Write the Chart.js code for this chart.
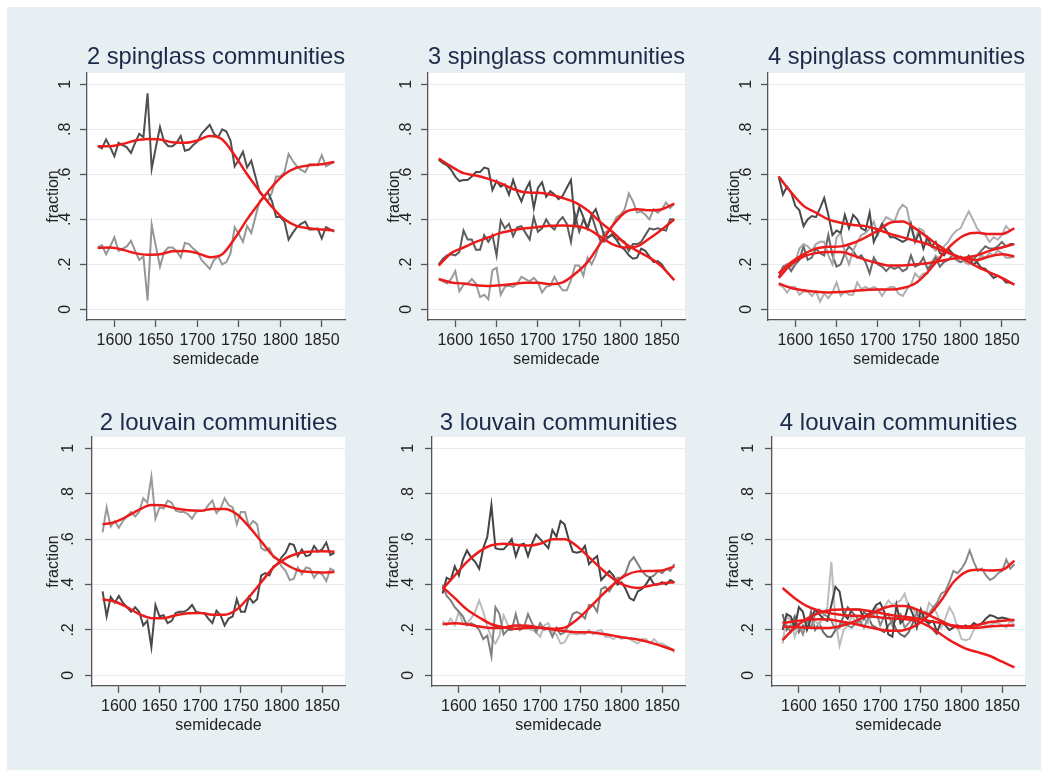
<!DOCTYPE html>
<html>
<head>
<meta charset="utf-8">
<script src="https://cdn.jsdelivr.net/npm/chart.js@4.4.1/dist/chart.umd.min.js"></script>
<style>
  html, body { margin: 0; padding: 0; background: #fff; }
  body { width: 1049px; height: 770px; position: relative; overflow: hidden; }
  #bg { position: absolute; left: 7px; top: 7px; width: 1034px; height: 763px; background: #e8eff2; }
  canvas { position: absolute; }
</style>
</head>
<body>
<div id="bg"></div>
<canvas id="c0"></canvas>
<canvas id="c1"></canvas>
<canvas id="c2"></canvas>
<canvas id="c3"></canvas>
<canvas id="c4"></canvas>
<canvas id="c5"></canvas>
<script>
// semidecades on the x axis
const years = [1580, 1585, 1590, 1595, 1600, 1605, 1610, 1615, 1620, 1625,
  1630, 1635, 1640, 1645, 1650, 1655, 1660, 1665, 1670, 1675,
  1680, 1685, 1690, 1695, 1700, 1705, 1710, 1715, 1720, 1725,
  1730, 1735, 1740, 1745, 1750, 1755, 1760, 1765, 1770, 1775,
  1780, 1785, 1790, 1795, 1800, 1805, 1810, 1815, 1820, 1825,
  1830, 1835, 1840, 1845, 1850, 1855, 1860, 1865];
// x positions of the smoothed (red) curves
const smoothYears = [1580, 1595, 1610, 1625, 1640, 1655, 1670, 1685, 1700, 1715,
  1730, 1745, 1760, 1775, 1790, 1805, 1820, 1835, 1850, 1865];

const xTicks = [1600, 1650, 1700, 1750, 1800, 1850];
const yTicks = [0, 0.2, 0.4, 0.6, 0.8, 1];
const yTickLabels = ['0', '.2', '.4', '.6', '.8', '1'];

const panelTitles = ['2 spinglass communities', '3 spinglass communities', '4 spinglass communities',
  '2 louvain communities', '3 louvain communities', '4 louvain communities'];

// --- 2 spinglass
const sg2Upper = [0.725, 0.715, 0.755, 0.72, 0.68, 0.74, 0.73, 0.72, 0.695, 0.74,
  0.78, 0.765, 0.96, 0.625, 0.72, 0.81, 0.745, 0.725, 0.725, 0.74,
  0.77, 0.705, 0.71, 0.73, 0.745, 0.78, 0.80, 0.82, 0.78, 0.765,
  0.80, 0.79, 0.75, 0.635, 0.665, 0.70, 0.63, 0.66, 0.59, 0.52,
  0.50, 0.52, 0.48, 0.41, 0.41, 0.39, 0.31, 0.34, 0.365, 0.38,
  0.39, 0.355, 0.355, 0.36, 0.315, 0.365, 0.355, 0.345];
const sg2Lower = [0.275, 0.285, 0.245, 0.28, 0.32, 0.26, 0.27, 0.28, 0.305, 0.26,
  0.22, 0.235, 0.04, 0.375, 0.28, 0.19, 0.255, 0.275, 0.275, 0.26,
  0.23, 0.295, 0.29, 0.27, 0.255, 0.22, 0.20, 0.18, 0.22, 0.235,
  0.20, 0.21, 0.25, 0.365, 0.335, 0.30, 0.37, 0.34, 0.41, 0.48,
  0.50, 0.48, 0.52, 0.59, 0.59, 0.61, 0.69, 0.66, 0.635, 0.62,
  0.61, 0.645, 0.645, 0.64, 0.685, 0.635, 0.645, 0.655];
const sg2FitUpper = [0.725, 0.725, 0.735, 0.75, 0.757, 0.755, 0.742, 0.74, 0.75, 0.77,
  0.755, 0.685, 0.60, 0.525, 0.455, 0.40, 0.37, 0.36, 0.355, 0.35];
const sg2FitLower = [0.273, 0.275, 0.265, 0.25, 0.243, 0.245, 0.258, 0.26, 0.25, 0.232,
  0.245, 0.315, 0.40, 0.475, 0.545, 0.60, 0.63, 0.64, 0.645, 0.655];

// --- 3 spinglass
const sg3A = [0.665, 0.65, 0.64, 0.62, 0.59, 0.57, 0.575, 0.575, 0.59, 0.61,
  0.61, 0.63, 0.625, 0.53, 0.57, 0.545, 0.555, 0.51, 0.575, 0.52,
  0.48, 0.53, 0.565, 0.45, 0.54, 0.565, 0.50, 0.525, 0.51, 0.49,
  0.505, 0.54, 0.575, 0.38, 0.455, 0.41, 0.36, 0.42, 0.445, 0.39,
  0.33, 0.32, 0.335, 0.31, 0.28, 0.265, 0.24, 0.225, 0.23, 0.27,
  0.26, 0.235, 0.21, 0.215, 0.20, 0.17, 0.15, 0.13];
const sg3B = [0.20, 0.225, 0.24, 0.245, 0.24, 0.255, 0.35, 0.31, 0.31, 0.265,
  0.265, 0.33, 0.30, 0.33, 0.24, 0.395, 0.36, 0.38, 0.325, 0.365,
  0.37, 0.34, 0.31, 0.41, 0.345, 0.36, 0.40, 0.37, 0.355, 0.39,
  0.41, 0.38, 0.30, 0.42, 0.345, 0.40, 0.36, 0.42, 0.36, 0.31,
  0.30, 0.32, 0.33, 0.31, 0.31, 0.30, 0.26, 0.29, 0.29, 0.30,
  0.33, 0.36, 0.355, 0.36, 0.355, 0.35, 0.40, 0.40];
const sg3C = [0.135, 0.125, 0.115, 0.135, 0.17, 0.08, 0.11, 0.115, 0.135, 0.115,
  0.055, 0.065, 0.045, 0.175, 0.185, 0.065, 0.10, 0.105, 0.10, 0.115,
  0.145, 0.135, 0.125, 0.14, 0.12, 0.075, 0.10, 0.105, 0.145, 0.11,
  0.085, 0.085, 0.13, 0.195, 0.195, 0.15, 0.23, 0.20, 0.24, 0.30,
  0.34, 0.35, 0.37, 0.41, 0.42, 0.445, 0.515, 0.48, 0.43, 0.435,
  0.42, 0.40, 0.445, 0.43, 0.445, 0.475, 0.45, 0.47];
const sg3FitA = [0.67, 0.635, 0.605, 0.595, 0.58, 0.56, 0.535, 0.52, 0.518, 0.51,
  0.495, 0.475, 0.44, 0.39, 0.345, 0.295, 0.26, 0.23, 0.19, 0.13];
const sg3FitB = [0.195, 0.25, 0.275, 0.30, 0.32, 0.34, 0.352, 0.36, 0.366, 0.372,
  0.373, 0.37, 0.358, 0.325, 0.29, 0.275, 0.28, 0.315, 0.355, 0.40];
const sg3FitC = [0.135, 0.12, 0.115, 0.107, 0.104, 0.107, 0.113, 0.118, 0.118, 0.112,
  0.12, 0.158, 0.21, 0.29, 0.37, 0.43, 0.445, 0.44, 0.445, 0.47];

// --- 4 spinglass
const sg4A = [0.59, 0.51, 0.545, 0.52, 0.46, 0.44, 0.37, 0.40, 0.415, 0.41,
  0.45, 0.495, 0.42, 0.33, 0.35, 0.34, 0.42, 0.36, 0.42, 0.40,
  0.36, 0.35, 0.43, 0.30, 0.34, 0.38, 0.35, 0.32, 0.32, 0.31,
  0.30, 0.31, 0.38, 0.30, 0.34, 0.27, 0.32, 0.28, 0.30, 0.25,
  0.24, 0.27, 0.25, 0.23, 0.235, 0.22, 0.235, 0.20, 0.21, 0.185,
  0.18, 0.16, 0.14, 0.15, 0.14, 0.12, 0.12, 0.11];
const sg4B = [0.16, 0.18, 0.20, 0.19, 0.21, 0.27, 0.29, 0.28, 0.26, 0.29,
  0.30, 0.30, 0.24, 0.20, 0.32, 0.34, 0.25, 0.20, 0.26, 0.30,
  0.33, 0.34, 0.36, 0.39, 0.33, 0.38, 0.41, 0.40, 0.39, 0.44,
  0.465, 0.45, 0.36, 0.31, 0.36, 0.35, 0.30, 0.28, 0.26, 0.28,
  0.27, 0.25, 0.24, 0.22, 0.23, 0.21, 0.20, 0.22, 0.21, 0.24,
  0.23, 0.25, 0.24, 0.26, 0.25, 0.23, 0.23, 0.235];
const sg4C = [0.14, 0.19, 0.20, 0.17, 0.20, 0.22, 0.28, 0.22, 0.23, 0.27,
  0.25, 0.24, 0.33, 0.24, 0.19, 0.20, 0.25, 0.28, 0.26, 0.23,
  0.24, 0.21, 0.16, 0.23, 0.20, 0.19, 0.17, 0.19, 0.18, 0.19,
  0.17, 0.18, 0.24, 0.19, 0.20, 0.23, 0.18, 0.20, 0.23, 0.19,
  0.21, 0.22, 0.24, 0.22, 0.21, 0.22, 0.24, 0.22, 0.24, 0.26,
  0.28, 0.27, 0.27, 0.28, 0.30, 0.28, 0.29, 0.29];
const sg4D = [0.11, 0.10, 0.075, 0.10, 0.10, 0.065, 0.08, 0.08, 0.06, 0.08,
  0.035, 0.07, 0.05, 0.075, 0.12, 0.06, 0.08, 0.065, 0.065, 0.12,
  0.09, 0.10, 0.09, 0.10, 0.09, 0.06, 0.09, 0.10, 0.10, 0.07,
  0.06, 0.09, 0.11, 0.16, 0.14, 0.16, 0.16, 0.21, 0.24, 0.22,
  0.28, 0.30, 0.33, 0.35, 0.36, 0.40, 0.435, 0.40, 0.36, 0.34,
  0.33, 0.30, 0.32, 0.31, 0.33, 0.37, 0.35, 0.36];
const sg4FitA = [0.59, 0.52, 0.46, 0.43, 0.40, 0.385, 0.375, 0.37, 0.355, 0.335,
  0.32, 0.305, 0.29, 0.265, 0.245, 0.22, 0.19, 0.165, 0.14, 0.11];
const sg4FitB = [0.16, 0.21, 0.245, 0.27, 0.278, 0.28, 0.295, 0.32, 0.35, 0.385,
  0.39, 0.36, 0.32, 0.28, 0.245, 0.225, 0.22, 0.235, 0.245, 0.235];
const sg4FitC = [0.14, 0.20, 0.235, 0.25, 0.255, 0.255, 0.24, 0.22, 0.205, 0.195,
  0.195, 0.20, 0.205, 0.215, 0.225, 0.23, 0.24, 0.26, 0.275, 0.29];
const sg4FitD = [0.115, 0.095, 0.085, 0.078, 0.075, 0.077, 0.082, 0.086, 0.088, 0.088,
  0.095, 0.115, 0.165, 0.23, 0.29, 0.33, 0.34, 0.335, 0.335, 0.36];

// --- 2 louvain
const lv2Upper = [0.63, 0.74, 0.655, 0.68, 0.65, 0.68, 0.70, 0.72, 0.70, 0.72,
  0.78, 0.76, 0.875, 0.69, 0.74, 0.735, 0.77, 0.76, 0.725, 0.72,
  0.72, 0.71, 0.69, 0.72, 0.725, 0.725, 0.75, 0.77, 0.715, 0.735,
  0.78, 0.75, 0.74, 0.665, 0.72, 0.72, 0.655, 0.68, 0.665, 0.56,
  0.55, 0.56, 0.52, 0.51, 0.48, 0.46, 0.42, 0.425, 0.475, 0.445,
  0.475, 0.47, 0.43, 0.455, 0.445, 0.415, 0.47, 0.46];
const lv2Lower = [0.37, 0.26, 0.345, 0.32, 0.35, 0.32, 0.30, 0.28, 0.30, 0.28,
  0.22, 0.24, 0.125, 0.31, 0.26, 0.265, 0.23, 0.24, 0.275, 0.28,
  0.28, 0.29, 0.31, 0.28, 0.275, 0.275, 0.25, 0.23, 0.285, 0.265,
  0.22, 0.25, 0.26, 0.335, 0.28, 0.28, 0.345, 0.32, 0.335, 0.44,
  0.45, 0.44, 0.48, 0.49, 0.52, 0.54, 0.58, 0.575, 0.525, 0.555,
  0.525, 0.53, 0.57, 0.545, 0.555, 0.585, 0.53, 0.54];
const lv2FitUpper = [0.665, 0.675, 0.70, 0.73, 0.75, 0.748, 0.735, 0.727, 0.725, 0.733,
  0.733, 0.71, 0.655, 0.59, 0.525, 0.49, 0.463, 0.455, 0.453, 0.455];
const lv2FitLower = [0.335, 0.325, 0.30, 0.27, 0.252, 0.252, 0.265, 0.273, 0.275, 0.267,
  0.267, 0.29, 0.345, 0.41, 0.475, 0.515, 0.537, 0.545, 0.547, 0.545];

// --- 3 louvain
const lv3A = [0.36, 0.43, 0.42, 0.48, 0.44, 0.51, 0.55, 0.52, 0.50, 0.47,
  0.56, 0.61, 0.75, 0.56, 0.555, 0.555, 0.575, 0.60, 0.525, 0.575,
  0.58, 0.525, 0.58, 0.62, 0.60, 0.58, 0.56, 0.64, 0.61, 0.68,
  0.665, 0.60, 0.545, 0.54, 0.545, 0.57, 0.49, 0.51, 0.525, 0.42,
  0.44, 0.46, 0.44, 0.40, 0.41, 0.38, 0.34, 0.33, 0.37, 0.38,
  0.40, 0.43, 0.40, 0.40, 0.41, 0.40, 0.42, 0.41];
const lv3B = [0.40, 0.35, 0.33, 0.30, 0.28, 0.26, 0.22, 0.23, 0.22, 0.20,
  0.16, 0.175, 0.085, 0.30, 0.27, 0.18, 0.20, 0.20, 0.27, 0.20,
  0.21, 0.27, 0.23, 0.19, 0.23, 0.20, 0.21, 0.17, 0.21, 0.18,
  0.19, 0.22, 0.27, 0.28, 0.27, 0.25, 0.31, 0.31, 0.28, 0.38,
  0.39, 0.37, 0.40, 0.43, 0.43, 0.45, 0.50, 0.52, 0.49, 0.46,
  0.44, 0.43, 0.44, 0.46, 0.45, 0.47, 0.46, 0.49];
const lv3C = [0.24, 0.22, 0.25, 0.22, 0.28, 0.23, 0.23, 0.25, 0.28, 0.33,
  0.28, 0.215, 0.165, 0.14, 0.175, 0.265, 0.225, 0.20, 0.205, 0.225,
  0.21, 0.205, 0.20, 0.19, 0.17, 0.22, 0.23, 0.19, 0.18, 0.14,
  0.145, 0.18, 0.185, 0.18, 0.185, 0.18, 0.20, 0.18, 0.195, 0.20,
  0.17, 0.17, 0.16, 0.17, 0.16, 0.17, 0.16, 0.15, 0.14, 0.16,
  0.16, 0.14, 0.16, 0.14, 0.14, 0.13, 0.12, 0.10];
const lv3FitA = [0.38, 0.44, 0.50, 0.545, 0.573, 0.58, 0.575, 0.572, 0.58, 0.60,
  0.60, 0.57, 0.52, 0.47, 0.425, 0.395, 0.385, 0.395, 0.405, 0.41];
const lv3FitB = [0.39, 0.34, 0.29, 0.255, 0.225, 0.212, 0.205, 0.21, 0.21, 0.205,
  0.21, 0.245, 0.295, 0.35, 0.40, 0.44, 0.458, 0.46, 0.462, 0.48];
const lv3FitC = [0.225, 0.23, 0.225, 0.215, 0.208, 0.21, 0.22, 0.218, 0.21, 0.202,
  0.195, 0.19, 0.19, 0.183, 0.175, 0.165, 0.158, 0.145, 0.128, 0.11];

// --- 4 louvain (the fourth grey series has no points after 1770)
const lv4A = [0.20, 0.27, 0.26, 0.21, 0.30, 0.28, 0.20, 0.25, 0.29, 0.27,
  0.25, 0.24, 0.31, 0.39, 0.37, 0.27, 0.25, 0.29, 0.29, 0.29,
  0.25, 0.27, 0.28, 0.31, 0.32, 0.28, 0.18, 0.17, 0.31, 0.23,
  0.25, 0.31, 0.27, 0.21, 0.29, 0.24, 0.23, 0.24, 0.19, 0.24,
  0.22, 0.20, 0.21, 0.22, 0.21, 0.22, 0.21, 0.23, 0.22, 0.23,
  0.25, 0.265, 0.26, 0.25, 0.255, 0.25, 0.245, 0.24];
const lv4B = [0.24, 0.22, 0.19, 0.24, 0.22, 0.18, 0.24, 0.21, 0.27, 0.29,
  0.27, 0.26, 0.24, 0.20, 0.21, 0.23, 0.22, 0.21, 0.23, 0.24,
  0.21, 0.25, 0.26, 0.28, 0.22, 0.26, 0.27, 0.22, 0.25, 0.27,
  0.21, 0.23, 0.25, 0.27, 0.25, 0.28, 0.27, 0.30, 0.32, 0.36,
  0.37, 0.41, 0.46, 0.45, 0.47, 0.50, 0.55, 0.50, 0.46, 0.47,
  0.44, 0.42, 0.43, 0.45, 0.46, 0.51, 0.47, 0.49];
const lv4C = [0.14, 0.26, 0.24, 0.17, 0.22, 0.20, 0.23, 0.21, 0.24, 0.22,
  0.26, 0.30, 0.50, 0.24, 0.13, 0.20, 0.22, 0.26, 0.24, 0.22,
  0.25, 0.23, 0.27, 0.30, 0.28, 0.30, 0.33, 0.31, 0.32, 0.33,
  0.36, 0.30, 0.30, 0.26, 0.28, 0.25, 0.32, 0.30, 0.27, 0.21,
  0.25, 0.30, 0.27, 0.21, 0.16, 0.155, 0.16, 0.20, 0.22, 0.23,
  0.22, 0.22, 0.23, 0.23, 0.22, 0.21, 0.24, 0.22];
const lv4D = [0.27, 0.20, 0.22, 0.26, 0.19, 0.22, 0.21, 0.28, 0.20, 0.23,
  0.19, 0.17, 0.17, 0.20, 0.22, 0.26, 0.30, 0.28, 0.26, 0.24,
  0.28, 0.26, 0.22, 0.21, 0.20, 0.19, 0.22, 0.24, 0.20, 0.18,
  0.17, 0.19, 0.23, 0.28, 0.25, 0.26, 0.22, 0.20, 0.18, null,
  null, null, null, null, null, null, null, null, null, null,
  null, null, null, null, null, null, null, null];
const lv4FitA = [0.385, 0.34, 0.305, 0.285, 0.272, 0.265, 0.262, 0.26, 0.255, 0.25,
  0.248, 0.24, 0.215, 0.18, 0.145, 0.118, 0.102, 0.085, 0.06, 0.035];
const lv4FitB = [0.23, 0.238, 0.245, 0.247, 0.245, 0.235, 0.225, 0.213, 0.202, 0.196,
  0.20, 0.222, 0.265, 0.33, 0.41, 0.455, 0.465, 0.462, 0.465, 0.505];
const lv4FitC = [0.215, 0.212, 0.21, 0.208, 0.21, 0.22, 0.24, 0.265, 0.29, 0.305,
  0.305, 0.29, 0.265, 0.24, 0.215, 0.21, 0.21, 0.215, 0.218, 0.22];
const lv4FitD = [0.155, 0.21, 0.25, 0.275, 0.288, 0.29, 0.29, 0.285, 0.275, 0.265,
  0.258, 0.25, 0.24, 0.23, 0.22, 0.215, 0.222, 0.235, 0.24, 0.245];

const FONT = "'Liberation Sans', Arial, Helvetica, sans-serif";
const RED = '#ec1c1c';

const panels = [
  { title: panelTitles[0], lines: [[sg2Upper, '#505050'], [sg2Lower, '#969696']], fits: [sg2FitUpper, sg2FitLower] },
  { title: panelTitles[1], lines: [[sg3A, '#4a4a4a'], [sg3B, '#5c5c5c'], [sg3C, '#9a9a9a']], fits: [sg3FitA, sg3FitB, sg3FitC] },
  { title: panelTitles[2], lines: [[sg4A, '#4a4a4a'], [sg4B, '#a8a8a8'], [sg4C, '#686868'], [sg4D, '#b0b0b0']], fits: [sg4FitA, sg4FitB, sg4FitC, sg4FitD] },
  { title: panelTitles[3], lines: [[lv2Upper, '#9a9a9a'], [lv2Lower, '#4a4a4a']], fits: [lv2FitUpper, lv2FitLower] },
  { title: panelTitles[4], lines: [[lv3A, '#444444'], [lv3B, '#808080'], [lv3C, '#bcbcbc']], fits: [lv3FitA, lv3FitB, lv3FitC] },
  { title: panelTitles[5], lines: [[lv4A, '#444444'], [lv4B, '#8a8a8a'], [lv4C, '#bdbdbd'], [lv4D, '#6a6a6a']], fits: [lv4FitA, lv4FitB, lv4FitC, lv4FitD] }
];

// plot rectangles in page pixels, and per-row tweaks for title/label offsets
const boxes = [
  { left: 87, right: 345, top: 73, bottom: 320 },
  { left: 428, right: 685, top: 73, bottom: 320 },
  { left: 768, right: 1025, top: 73, bottom: 320 },
  { left: 92, right: 345, top: 437, bottom: 686 },
  { left: 432, right: 685, top: 437, bottom: 686 },
  { left: 772, right: 1025, top: 437, bottom: 686 }
];
const rowStyle = [
  { titleTop: 32, yTitlePad: 44.4, yTickPad: 7.3 },
  { titleTop: 34, yTitlePad: 39.4, yTickPad: 9.3 }
];

const Y_AXIS_W = 87, X_AXIS_H = 60, TITLE_H = 60, PAD_R = 12;

const plotBg = {
  id: 'plotBg',
  beforeDraw(chart) {
    const { ctx, chartArea: a } = chart;
    ctx.save();
    ctx.fillStyle = '#ffffff';
    ctx.fillRect(a.left, a.top, a.right - a.left, a.bottom - a.top);
    ctx.restore();
  }
};

panels.forEach((p, i) => {
  const box = boxes[i];
  const row = rowStyle[i < 3 ? 0 : 1];
  const canvas = document.getElementById('c' + i);
  canvas.width = Y_AXIS_W + (box.right - box.left) + PAD_R;
  canvas.height = TITLE_H + (box.bottom - box.top) + X_AXIS_H;
  canvas.style.left = (box.left - Y_AXIS_W) + 'px';
  canvas.style.top = (box.top - TITLE_H) + 'px';

  const datasets = [];
  p.fits.forEach(f => {
    datasets.push({
      data: smoothYears.map((x, k) => ({ x: x, y: f[k] })),
      borderColor: RED, borderWidth: 2.5, pointRadius: 0,
      cubicInterpolationMode: 'monotone', order: 1
    });
  });
  p.lines.forEach(([vals, color]) => {
    datasets.push({
      data: years.map((x, k) => ({ x: x, y: vals[k] })),
      borderColor: color, borderWidth: 2, pointRadius: 0,
      tension: 0, spanGaps: false, order: 2
    });
  });

  new Chart(canvas, {
    type: 'line',
    data: { datasets: datasets },
    options: {
      responsive: false,
      animation: false,
      events: [],
      layout: { padding: { left: 0, right: PAD_R, top: 0, bottom: 0 } },
      plugins: {
        legend: { display: false },
        tooltip: { enabled: false },
        title: {
          display: true, text: p.title, fullSize: false, color: '#1b2a4a',
          font: { family: FONT, size: 24, weight: 'normal', lineHeight: 1 },
          padding: { top: row.titleTop, bottom: TITLE_H - 24 - row.titleTop }
        }
      },
      scales: {
        x: {
          type: 'linear', min: 1567, max: 1878,
          afterBuildTicks: s => { s.ticks = xTicks.map(v => ({ value: v })); },
          afterFit: s => { s.height = X_AXIS_H; },
          ticks: { color: '#222', font: { family: FONT, size: 16 }, padding: 4, maxRotation: 0, autoSkip: false, callback: v => String(v) },
          grid: { drawOnChartArea: false, tickLength: 7, tickColor: '#555', tickWidth: 1.3 },
          border: { color: '#555', width: 1.3 },
          title: { display: true, text: 'semidecade', color: '#222', font: { family: FONT, size: 16 }, padding: { top: 0, bottom: 10.4 } }
        },
        y: {
          min: -0.047, max: 1.05,
          afterBuildTicks: s => { s.ticks = yTicks.map(v => ({ value: v })); },
          afterFit: s => { s.width = Y_AXIS_W; },
          ticks: {
            color: '#222', font: { family: FONT, size: 16 }, minRotation: 90, maxRotation: 90,
            crossAlign: 'center', padding: row.yTickPad, autoSkip: false,
            callback: (v, k) => yTickLabels[k]
          },
          grid: { color: '#e8ebed', lineWidth: 1, tickLength: 7, tickColor: '#555', tickWidth: 1.3 },
          border: { color: '#555', width: 1.3 },
          title: { display: true, text: 'fraction', color: '#222', font: { family: FONT, size: 16 }, padding: { top: row.yTitlePad, bottom: 0 } }
        }
      }
    },
    plugins: [plotBg]
  });
});
</script>
</body>
</html>
